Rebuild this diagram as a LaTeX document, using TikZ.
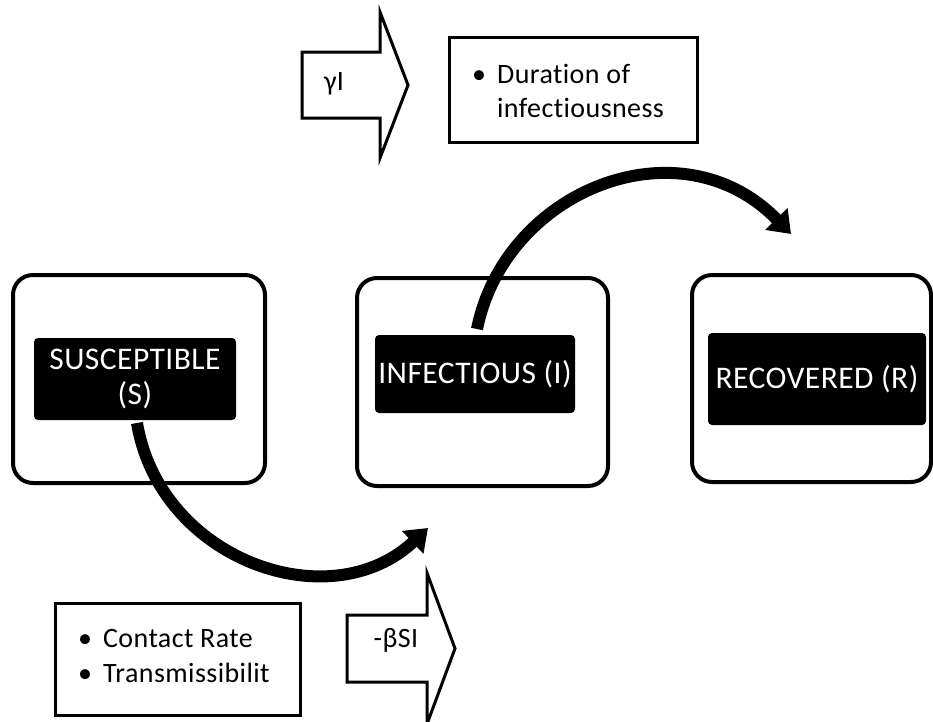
\documentclass[tikz,border=0pt]{standalone}
\usepackage{fontspec}
\setmainfont{Carlito}[Ligatures=NoCommon,LetterSpace=1.5]
\usetikzlibrary{arrows.meta}
\begin{document}
\begin{tikzpicture}[x=1pt,y=-1pt,
  outerbox/.style={draw=black,line width=4pt,rounded corners=20pt,fill=white},
  innerbox/.style={fill=black,rounded corners=4pt,text=white,font=\fontsize{31.5}{35}\selectfont,align=center,inner sep=0pt},
  textbox/.style={draw=black,line width=3pt,fill=white},
  blockarrow/.style={draw=black,line width=3pt,fill=white,line join=miter},
  flow/.style={line width=12pt,-{Triangle[length=21pt,width=30pt]}},
  lbl/.style={font=\fontsize{28}{34.5}\selectfont,inner sep=0pt}
]
\useasboundingbox (0,0) rectangle (933,721);
% compartments
\draw[outerbox] (13,275) rectangle (265,483);
\draw[outerbox] (357,278) rectangle (608,486);
\draw[outerbox] (692,275) rectangle (931,482);
\node[innerbox,minimum width=202pt,minimum height=82pt] (S) at (135,379) {SUSCEPTIBLE\\(S)};
\node[innerbox,minimum width=200pt,minimum height=78pt] (I) at (475,374) {INFECTIOUS (I)};
\node[innerbox,minimum width=218pt,minimum height=92pt] (R) at (817,379) {RECOVERED (R)};
% curved flows
\coordinate (s0) at (137,423);
\coordinate (i1) at (428,528);
\coordinate (i0) at (477,329);
\coordinate (r1) at (791,234);
\draw[flow] (s0) .. controls (160,560) and (330,620) .. (i1);
\draw[flow] (i0) .. controls (505,190) and (680,120) .. (r1);
% top block arrow and text
\draw[blockarrow] (302,52) -- (380,52) -- (380,12) -- (408,85) -- (380,158) -- (380,118) -- (302,118) -- cycle;
\node[lbl] (gamma) at (334,84) {γI};
\node[textbox,minimum width=248pt,minimum height=105pt] (dur) at (573,89.5) {};
\node[lbl,anchor=north west] (durtxt) at (472,59) {\begin{tabular}{@{}l@{\hspace{11pt}}l@{}}\textbullet & Duration of\\ & infectiousness\end{tabular}};
% bottom block arrow and text
\draw[blockarrow] (347,615) -- (427,615) -- (427,573) -- (455,648.5) -- (427,724) -- (427,682) -- (347,682) -- cycle;
\node[lbl] (beta) at (396,640) {-βSI};
\node[textbox,minimum width=245pt,minimum height=112pt] (cr) at (177.5,659) {};
\node[lbl,anchor=north west] (crtxt) at (78,623.5) {\begin{tabular}{@{}l@{\hspace{11pt}}l@{}}\textbullet & Contact Rate\\ \textbullet & Transmissibilit\end{tabular}};
\end{tikzpicture}
\end{document}
